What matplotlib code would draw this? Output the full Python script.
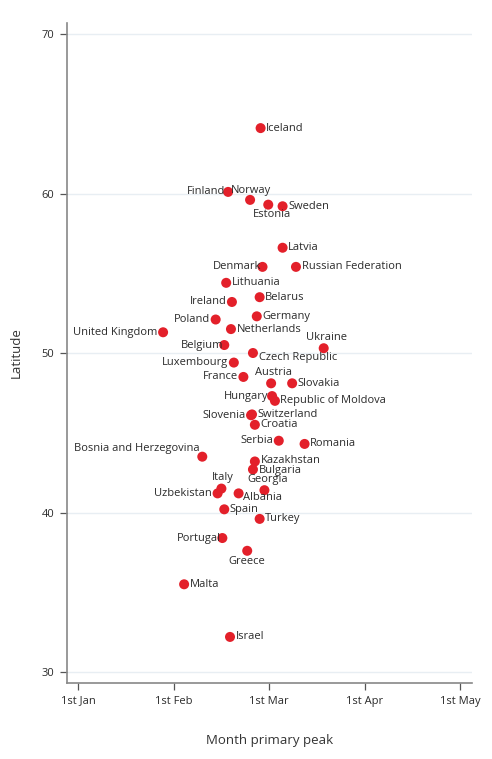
import matplotlib
matplotlib.use("Agg")
import matplotlib.pyplot as plt

plt.rcParams["font.family"] = ["Open Sans", "DejaVu Sans"]

# Month of primary peak (1 = 1st Jan, 2 = 1st Feb, ...) and latitude per country
countries = [
    "Iceland", "Finland", "Norway", "Estonia", "Sweden", "Latvia", "Denmark",
    "Russian Federation", "Lithuania", "Ireland", "Belarus", "Germany", "Poland",
    "Netherlands", "United Kingdom", "Ukraine", "Belgium", "Czech Republic",
    "Luxembourg", "France", "Austria", "Slovakia", "Hungary", "Republic of Moldova",
    "Slovenia", "Switzerland", "Croatia", "Serbia", "Romania",
    "Bosnia and Herzegovina", "Kazakhstan", "Bulgaria", "Italy", "Uzbekistan",
    "Albania", "Georgia", "Spain", "Turkey", "Portugal", "Greece", "Malta", "Israel",
]
peak_month = [
    2.91, 2.57, 2.80, 2.99, 3.14, 3.14, 2.93,
    3.28, 2.55, 2.61, 2.90, 2.87, 2.44,
    2.60, 1.89, 3.57, 2.53, 2.83,
    2.63, 2.73, 3.02, 3.24, 3.03, 3.06,
    2.81, 2.82, 2.85, 3.10, 3.37,
    2.30, 2.85, 2.83, 2.50, 2.46,
    2.68, 2.95, 2.53, 2.90, 2.51, 2.77, 2.11, 2.59,
]
latitude = [
    64.1, 60.1, 59.6, 59.3, 59.2, 56.6, 55.4,
    55.4, 54.4, 53.2, 53.5, 52.3, 52.1,
    51.5, 51.3, 50.3, 50.5, 50.0,
    49.4, 48.5, 48.1, 48.1, 47.3, 47.0,
    46.1, 46.15, 45.5, 44.5, 44.3,
    43.5, 43.2, 42.7, 41.5, 41.2,
    41.2, 41.4, 40.2, 39.6, 38.4, 37.6, 35.5, 32.2,
]
month_ticks = [1, 2, 3, 4, 5]
month_labels = ["1st Jan", "1st Feb", "1st Mar", "1st Apr", "1st May"]
lat_ticks = [30, 40, 50, 60, 70]

# label placement: (dx, dy, ha, va) in points
R = (4, 0, "left", "center")
L = (-4, 0, "right", "center")
place = {
    "Finland": (-2, 0, "right", "center"),
    "Norway": (1, 3, "center", "bottom"),
    "Estonia": (3, -3, "center", "top"),
    "Denmark": (-1, 0, "right", "center"),
    "Ireland": L, "Poland": L, "United Kingdom": L,
    "Ukraine": (2, 4, "center", "bottom"),
    "Belgium": (-1, 0, "right", "center"),
    "Czech Republic": (4, -3, "left", "center"),
    "Luxembourg": L, "France": L,
    "Austria": (2, 4, "center", "bottom"),
    "Hungary": (-3, 0, "right", "center"),
    "Slovenia": L,
    "Serbia": L,
    "Bosnia and Herzegovina": (-2, 6, "right", "center"),
    "Kazakhstan": (4, 1, "left", "center"),
    "Bulgaria": (4, -1, "left", "center"),
    "Italy": (1, 4, "center", "bottom"),
    "Uzbekistan": L,
    "Albania": (3, -3, "left", "center"),
    "Georgia": (2, 4, "center", "bottom"),
    "Portugal": (-1, 0, "right", "center"),
    "Greece": (0, -4, "center", "top"),
}

fig = plt.figure(figsize=(4.92, 7.59), dpi=100)
ax = fig.add_axes([0.1362, 0.1001, 0.8231, 0.8696])

ax.scatter(peak_month, latitude, s=52, color="#e3202a", edgecolors="none", zorder=3)

for name, xm, lat in zip(countries, peak_month, latitude):
    dx, dy, ha, va = place.get(name, R)
    ax.annotate(name, (xm, lat), xytext=(dx, dy), textcoords="offset points",
                ha=ha, va=va, fontsize=8, color="#2b2b2b", zorder=4)

ax.set_xlim(0.885, 5.121)
ax.set_ylim(29.31, 70.69)
ax.set_xticks(month_ticks)
ax.set_xticklabels(month_labels)
ax.set_yticks(lat_ticks)

ax.grid(axis="y", color="#e8eef3", linewidth=1.0, zorder=0)
ax.grid(axis="x", visible=False)
for s in ["top", "right"]:
    ax.spines[s].set_visible(False)
for s in ["left", "bottom"]:
    ax.spines[s].set_color("#888888")
    ax.spines[s].set_linewidth(1.2)
ax.tick_params(axis="both", direction="out", length=5, width=0.9, color="#555555",
               labelsize=8, labelcolor="#2b2b2b", pad=4)

ax.set_xlabel("Month primary peak", fontsize=9.5, color="#333333", labelpad=20)
ax.set_ylabel("Latitude", fontsize=9.5, color="#333333", labelpad=14)

fig.savefig("out.png", dpi=100)
